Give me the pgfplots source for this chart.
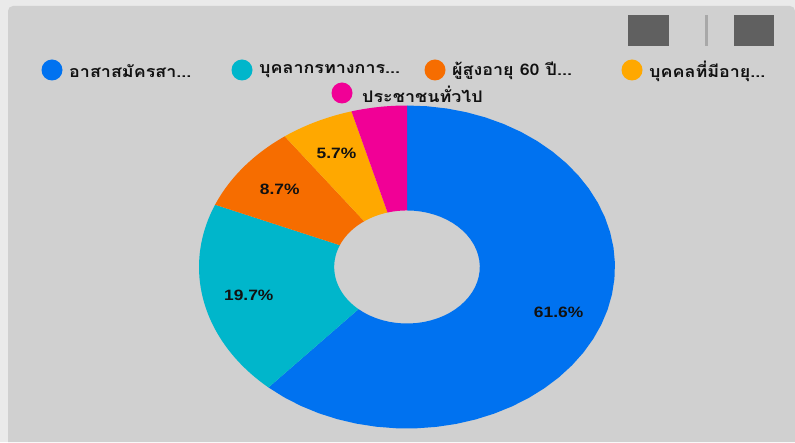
\documentclass[border=0pt]{standalone}
\usepackage{pgfplots}
\pgfplotsset{compat=1.18}
\usepackage{pgfplotstable}
\usepackage{fontspec}
\setmainfont{Liberation Sans}
\newfontfamily\thaifont[Script=Thai]{Loma}
\definecolor{cblue}{HTML}{0072F0}
\definecolor{ccyan}{HTML}{00B6CB}
\definecolor{corange}{HTML}{F66D00}
\definecolor{cyellow}{HTML}{FFA800}
\definecolor{cpink}{HTML}{F10096}
\definecolor{bgpage}{HTML}{EAEAEA}
\definecolor{bgcard}{HTML}{D0D0D0}
\definecolor{icon}{HTML}{606060}
\definecolor{iconbar}{HTML}{A8A8A8}
\definecolor{txt}{HTML}{111111}

\pgfplotstableread{
v col lab
61.6 cblue 1
19.7 ccyan 1
8.7 corange 1
5.7 cyellow 1
4.3 cpink 0
}\piedata

\begin{document}
\begin{tikzpicture}
\begin{axis}[at={(0,0)}, anchor=south west, scale only axis,
  width=795pt, height=442pt, xmin=0, xmax=795, ymin=0, ymax=442,
  axis lines=none, ticks=none, clip=true]
\fill[bgpage] (axis cs:0,0) rectangle (axis cs:795,442);
\fill[bgcard] (axis cs:795,0) -- (axis cs:8,0) [rounded corners=5pt] -- (axis cs:8,436) -- (axis cs:795,436) [sharp corners] -- cycle;
% toolbar icons
\fill[icon] (axis cs:628,396) rectangle (axis cs:669,427);
\fill[iconbar] (axis cs:705,396) rectangle (axis cs:708,427);
\fill[icon] (axis cs:734,396) rectangle (axis cs:774,427);
% donut
\def\cum{0}
\pgfplotsforeachungrouped \i in {0,...,4}{%
  \pgfplotstablegetelem{\i}{v}\of\piedata \let\val\pgfplotsretval
  \pgfplotstablegetelem{\i}{col}\of\piedata \let\col\pgfplotsretval
  \pgfplotstablegetelem{\i}{lab}\of\piedata \let\lab\pgfplotsretval
  \pgfmathsetmacro\aS{90-3.6*\cum}%
  \pgfmathsetmacro\aE{90-3.6*(\cum+\val)}%
  \pgfmathsetmacro\aM{(\aS+\aE)/2}%
  \edef\doplot{\noexpand\addplot[draw=none, fill=\col, domain=0:81, samples=82, variable=\noexpand\t]
   ({407+208*(\noexpand\t<40.5 ? 1 : 0.35)*cos(\noexpand\t<40.5 ? (\aS)+\noexpand\t/40*((\aE)-(\aS)) : (\aE)+(\noexpand\t-41)/40*((\aS)-(\aE)))},
    {175+161.5*(\noexpand\t<40.5 ? 1 : 0.35)*sin(\noexpand\t<40.5 ? (\aS)+\noexpand\t/40*((\aE)-(\aS)) : (\aE)+(\noexpand\t-41)/40*((\aS)-(\aE)))}) -- cycle;}%
  \doplot
  \ifnum\lab=1
    \pgfmathsetmacro\lx{407+208*0.78*cos(\aM)}%
    \pgfmathsetmacro\ly{175+161.5*0.78*sin(\aM)}%
    \edef\donode{\noexpand\node[font=\noexpand\bfseries\noexpand\fontsize{15}{15}\noexpand\selectfont, text=txt, xscale=1.16, inner sep=0pt] at (axis cs:\lx,\ly) {\val\noexpand\%};}%
    \donode
  \fi
  \pgfmathsetmacro\cum{\cum+\val}%
}
% legend
\pgfplotsset{/tikz/legtext/.style={anchor=west, inner sep=0pt, text=txt, xscale=1.12, font=\thaifont\bfseries\fontsize{16}{16}\selectfont}}
\fill[cblue] (axis cs:52,372) circle[radius=10.5pt];
\node[legtext] at (axis cs:69,371) {อาสาสมัครสา...};
\fill[ccyan] (axis cs:242,372) circle[radius=10.5pt];
\node[legtext] at (axis cs:259,371) {บุคลากรทางการ...};
\fill[corange] (axis cs:435,372) circle[radius=10.5pt];
\node[legtext] at (axis cs:452,371) {ผู้สูงอายุ 60 ปี...};
\fill[cyellow] (axis cs:632,372) circle[radius=10.5pt];
\node[legtext] at (axis cs:649,371) {บุคคลที่มีอายุ...};
\fill[cpink] (axis cs:342,349) circle[radius=10.5pt];
\node[legtext] at (axis cs:362,348) {ประชาชนทั่วไป};
\end{axis}
\end{tikzpicture}
\end{document}
